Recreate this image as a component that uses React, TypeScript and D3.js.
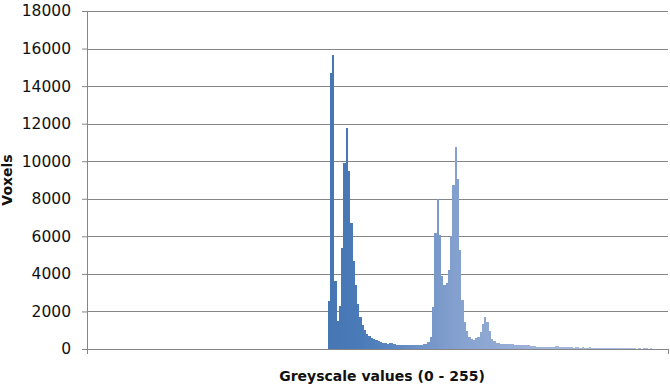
import * as d3 from "d3";
import { useEffect, useRef } from "react";

// histogram of greyscale values, bins 0..255; everything below firstBin is empty
const binCount = 256;
const firstBin = 106;
const voxelCounts = [
  2550, 14700, 15650, 3600, 1500, 2300, 5400, 9900, 11750, 9500, // 106-115
  6700, 4700, 3400, 2400, 1700, 1300, 1000, 790, 690, 600, // 116-125
  530, 500, 420, 370, 330, 310, 280, 320, 330, 280, // 126-135
  215, 212, 210, 210, 208, 210, 210, 208, 210, 212, // 136-145
  215, 220, 250, 280, 390, 655, 2250, 6180, 8000, 6050, // 146-155
  3900, 3430, 3490, 4230, 6000, 8760, 10740, 9060, 5260, 2600, // 156-165
  1450, 960, 640, 520, 480, 600, 660, 900, 1330, 1690, // 166-175
  1420, 940, 510, 410, 340, 300, 270, 265, 265, 260, // 176-185
  265, 260, 230, 230, 195, 212, 210, 212, 205, 177, // 186-195
  180, 175, 125, 124, 120, 125, 124, 122, 120, 124, // 196-205
  140, 138, 90, 88, 88, 90, 85, 80, 78, 80, // 206-215
  80, 78, 80, 76, 78, 80, 78, 76, 78, 75, // 216-225
  76, 78, 75, 76, 74, 75, 76, 74, 72, 75, // 226-235
  74, 72, 74, 72, 70, 72, 0, 40, 0, 40, // 236-245
  40, 0, 40, 0, 0, 0, 0, 0, 0, 0, // 246-255
];
const yTicks = [0, 2000, 4000, 6000, 8000, 10000, 12000, 14000, 16000, 18000];
const colorStops = [106, 120, 135, 150, 165, 200, 255];
const colorValues = ["#4676b4", "#4a7ab8", "#5c87c1", "#7696c9", "#86a2cf", "#a1b4da", "#b4c3e2"];

const xTitle = "Greyscale values (0 - 255)";
const yTitle = "Voxels";

export default function App() {
  const svgRef = useRef(null);

  useEffect(() => {
    const w = 670;
    const h = 390;
    const left = 87;
    const right = 668;
    const top = 11;
    const bottom = 349;
    const font = "'DejaVu Sans', sans-serif";

    const bins = d3.range(binCount).map((i) => ({
      bin: i,
      count: i < firstBin ? 0 : voxelCounts[i - firstBin] || 0,
    }));

    const svg = d3.select(svgRef.current).attr("width", w).attr("height", h);
    svg.selectAll("*").remove();

    const x = d3.scaleBand().domain(d3.range(binCount)).range([left, right]).padding(0);
    const y = d3.scaleLinear().domain([0, 18000]).range([bottom, top]);
    const color = d3.scaleLinear().domain(colorStops).range(colorValues).clamp(true);

    // gridlines + y axis
    const yAxis = d3.axisLeft(y).tickValues(yTicks).tickSize(5).tickPadding(11).tickFormat(d3.format("d"));
    const ga = svg.append("g").attr("transform", `translate(${left},0)`).call(yAxis);
    ga.select(".domain").attr("stroke", "#858585");
    ga.selectAll(".tick line").attr("stroke", "#858585");
    ga.selectAll(".tick text")
      .attr("fill", "#111")
      .style("font-family", font)
      .style("font-size", "15.5px");

    svg.append("g")
      .selectAll("line")
      .data(yTicks.filter((t) => t > 0))
      .enter()
      .append("line")
      .attr("x1", left)
      .attr("x2", right)
      .attr("y1", (d) => Math.round(y(d)) + 0.5)
      .attr("y2", (d) => Math.round(y(d)) + 0.5)
      .attr("stroke", "#858585")
      .attr("stroke-width", 1);

    // bars, pixel-snapped so neighbours touch without seams
    svg.append("g")
      .attr("shape-rendering", "crispEdges")
      .selectAll("rect")
      .data(bins.filter((d) => d.count > 0))
      .enter()
      .append("rect")
      .attr("x", (d) => Math.round(x(d.bin)))
      .attr("width", (d) => Math.round(x(d.bin) + x.bandwidth()) - Math.round(x(d.bin)))
      .attr("y", (d) => Math.round(y(d.count)))
      .attr("height", (d) => bottom - Math.round(y(d.count)))
      .attr("fill", (d) => color(d.bin));

    // x axis line with end ticks
    const gx = svg.append("g");
    gx.append("line")
      .attr("x1", left)
      .attr("x2", right)
      .attr("y1", bottom + 0.5)
      .attr("y2", bottom + 0.5)
      .attr("stroke", "#858585");
    gx.selectAll("line.end")
      .data([left, right])
      .enter()
      .append("line")
      .attr("class", "end")
      .attr("x1", (d) => d + 0.5)
      .attr("x2", (d) => d + 0.5)
      .attr("y1", bottom)
      .attr("y2", bottom + 5)
      .attr("stroke", "#858585");

    svg.append("text")
      .attr("x", 382)
      .attr("y", 381)
      .attr("text-anchor", "middle")
      .style("font-family", font)
      .style("font-size", "14px")
      .style("font-weight", "bold")
      .attr("fill", "#111")
      .text(xTitle);

    svg.append("text")
      .attr("transform", `translate(12,180) rotate(-90)`)
      .attr("text-anchor", "middle")
      .style("font-family", font)
      .style("font-size", "14px")
      .style("font-weight", "bold")
      .attr("fill", "#111")
      .text(yTitle);
  }, []);

  return <svg ref={svgRef} style={{ position: "absolute", left: 0, top: 0 }}></svg>;
}
